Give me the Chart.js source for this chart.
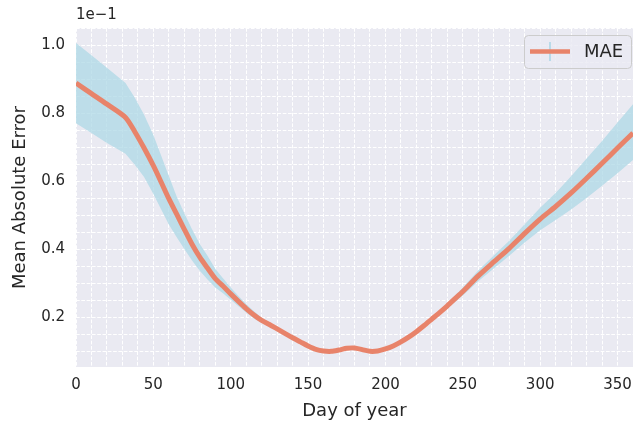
<!DOCTYPE html>
<html><head><meta charset="utf-8">
<script src="https://cdn.jsdelivr.net/npm/chart.js@4/dist/chart.umd.min.js"></script>
<style>html,body{margin:0;padding:0;background:#fff;overflow:hidden}</style>
</head><body>
<canvas id="c" width="633" height="427" style="display:block;width:633px;height:427px"></canvas>
<script>
// ---- data (y shown in units of 1e-1) ----
const days = [0,10,20,32,38,44,50,55,60,65,70,75,80,85,90,95,100,105,110,115,120,125,130,135,140,145,150,155,160,165,170,175,180,185,190,195,200,205,210,215,220,225,230,235,240,245,250,260,270,280,290,300,310,320,330,340,350,360];
const mae = [0.888,0.857,0.826,0.787,0.745,0.697,0.645,0.597,0.548,0.503,0.458,0.414,0.376,0.344,0.313,0.291,0.268,0.246,0.225,0.206,0.190,0.178,0.165,0.152,0.139,0.127,0.115,0.105,0.100,0.099,0.103,0.108,0.109,0.104,0.099,0.100,0.106,0.115,0.127,0.141,0.157,0.175,0.194,0.213,0.233,0.254,0.275,0.321,0.362,0.402,0.446,0.488,0.525,0.565,0.608,0.652,0.697,0.741];
const maeUpper = [1.006,0.970,0.933,0.888,0.845,0.795,0.735,0.675,0.615,0.555,0.505,0.458,0.415,0.380,0.342,0.314,0.287,0.262,0.238,0.217,0.198,0.184,0.170,0.156,0.143,0.130,0.118,0.108,0.103,0.102,0.106,0.111,0.112,0.107,0.102,0.103,0.109,0.118,0.130,0.144,0.161,0.179,0.199,0.219,0.240,0.263,0.287,0.337,0.381,0.424,0.473,0.521,0.565,0.614,0.666,0.718,0.772,0.826];
const maeLower = [0.770,0.741,0.712,0.680,0.648,0.612,0.562,0.517,0.472,0.435,0.400,0.366,0.336,0.310,0.287,0.270,0.251,0.232,0.213,0.196,0.183,0.172,0.160,0.148,0.135,0.124,0.112,0.102,0.097,0.096,0.100,0.105,0.106,0.101,0.096,0.097,0.103,0.112,0.124,0.138,0.153,0.171,0.189,0.207,0.226,0.245,0.263,0.305,0.343,0.380,0.419,0.455,0.485,0.516,0.550,0.586,0.623,0.662];
const xTickValues = [0,10,20,30,40,50,60,70,80,90,100,110,120,130,140,150,160,170,180,190,200,210,220,230,240,250,260,270,280,290,300,310,320,330,340,350,360];
const xTickLabels = ['0','50','100','150','200','250','300','350'];
const yTickValues = [0.1,0.15,0.2,0.25,0.3,0.35,0.4,0.45,0.5,0.55,0.6,0.65,0.7,0.75,0.8,0.85,0.9,0.95,1.0,1.05];
const yTickLabels = ['0.2','0.4','0.6','0.8','1.0'];
const seriesName = 'MAE';
const offsetText = '1e\u22121';

const FONT = 'DejaVu Sans';
const TXT = '#262626';
const LINE_C = '#E8836A';
const BAND_C = 'rgba(173,216,230,0.75)';

const pts = arr => days.map((d, i) => ({x: d, y: arr[i]}));

const deco = {
  id: 'deco',
  beforeDraw(chart) {
    const {ctx, chartArea: a} = chart;
    ctx.save();
    ctx.fillStyle = '#ffffff';
    ctx.fillRect(0, 0, chart.width, chart.height);
    ctx.fillStyle = '#EAEAF2';
    ctx.fillRect(a.left, a.top, a.right - a.left, a.bottom - a.top);
    ctx.restore();
  },
  afterDraw(chart) {
    const {ctx, chartArea: a} = chart;
    ctx.save();
    ctx.fillStyle = TXT;
    ctx.font = '15px "' + FONT + '"';
    ctx.textBaseline = 'alphabetic';
    ctx.textAlign = 'left';
    ctx.fillText(offsetText, a.left, 19);
    const bx = 524.5, by = 35.5, bw = 107, bh = 33, r = 4;
    ctx.beginPath();
    ctx.moveTo(bx + r, by);
    ctx.lineTo(bx + bw - r, by);
    ctx.quadraticCurveTo(bx + bw, by, bx + bw, by + r);
    ctx.lineTo(bx + bw, by + bh - r);
    ctx.quadraticCurveTo(bx + bw, by + bh, bx + bw - r, by + bh);
    ctx.lineTo(bx + r, by + bh);
    ctx.quadraticCurveTo(bx, by + bh, bx, by + bh - r);
    ctx.lineTo(bx, by + r);
    ctx.quadraticCurveTo(bx, by, bx + r, by);
    ctx.closePath();
    ctx.fillStyle = 'rgba(234,234,242,0.8)';
    ctx.fill();
    ctx.strokeStyle = '#CCCCCC';
    ctx.lineWidth = 1;
    ctx.stroke();
    ctx.strokeStyle = 'rgb(185,218,233)';
    ctx.lineWidth = 2;
    ctx.beginPath(); ctx.moveTo(550, 42); ctx.lineTo(550, 61); ctx.stroke();
    ctx.strokeStyle = LINE_C;
    ctx.lineWidth = 4.5;
    ctx.beginPath(); ctx.moveTo(530, 51.5); ctx.lineTo(570, 51.5); ctx.stroke();
    ctx.fillStyle = TXT;
    ctx.font = '18px "' + FONT + '"';
    ctx.textBaseline = 'middle';
    ctx.fillText(seriesName, 584, 52);
    ctx.restore();
  }
};

new Chart(document.getElementById('c'), {
  type: 'line',
  data: {
    datasets: [
      {label: seriesName, data: pts(mae), borderColor: LINE_C, borderWidth: 5, pointRadius: 0,
       fill: false, order: 0, tension: 0.25, clip: 0, borderCapStyle: 'butt'},
      {label: 'upper', data: pts(maeUpper), borderWidth: 0, borderColor: 'rgba(0,0,0,0)', pointRadius: 0,
       backgroundColor: BAND_C, fill: '+1', order: 1, tension: 0, clip: 0},
      {label: 'lower', data: pts(maeLower), borderWidth: 0, borderColor: 'rgba(0,0,0,0)', pointRadius: 0,
       fill: false, order: 1, tension: 0, clip: 0}
    ]
  },
  options: {
    responsive: false,
    animation: false,
    devicePixelRatio: 1,
    layout: {padding: {top: 28, left: 0, right: 0, bottom: 0}},
    plugins: {legend: {display: false}, tooltip: {enabled: false}},
    elements: {line: {borderJoinStyle: 'round'}},
    scales: {
      x: {
        type: 'linear', min: 0, max: 360,
        afterBuildTicks: s => { s.ticks = xTickValues.map(v => ({value: v})); },
        afterFit: s => { s.height = 60; s.paddingLeft = 0; s.paddingRight = 0; },
        ticks: {
          autoSkip: false, maxRotation: 0, padding: 9, color: TXT,
          font: {family: FONT, size: 15},
          callback: v => { const t = String(Math.round(v)); return xTickLabels.includes(t) ? t : ''; }
        },
        grid: {color: '#ffffff', lineWidth: 1, drawTicks: false, tickLength: 0},
        border: {display: false, dash: [3.7, 1.6]},
        title: {display: true, text: 'Day of year', color: TXT, font: {family: FONT, size: 18}, padding: {top: 0, bottom: 5}}
      },
      y: {
        type: 'linear', min: 0.053, max: 1.05,
        afterBuildTicks: s => { s.ticks = yTickValues.map(v => ({value: v})); },
        afterFit: s => { s.width = 76; s.paddingTop = 0; s.paddingBottom = 0; },
        ticks: {
          autoSkip: false, padding: 11, color: TXT,
          font: {family: FONT, size: 15},
          callback: v => { const t = v.toFixed(1); return (Math.abs(v * 5 - Math.round(v * 5)) < 1e-6 && yTickLabels.includes(t)) ? t : ''; }
        },
        grid: {color: '#ffffff', lineWidth: 1, drawTicks: false, tickLength: 0},
        border: {display: false, dash: [3.7, 1.6]},
        title: {display: true, text: 'Mean Absolute Error', color: TXT, font: {family: FONT, size: 18}, padding: {top: 10, bottom: 0}}
      }
    }
  },
  plugins: [deco]
});
</script>
</body></html>
